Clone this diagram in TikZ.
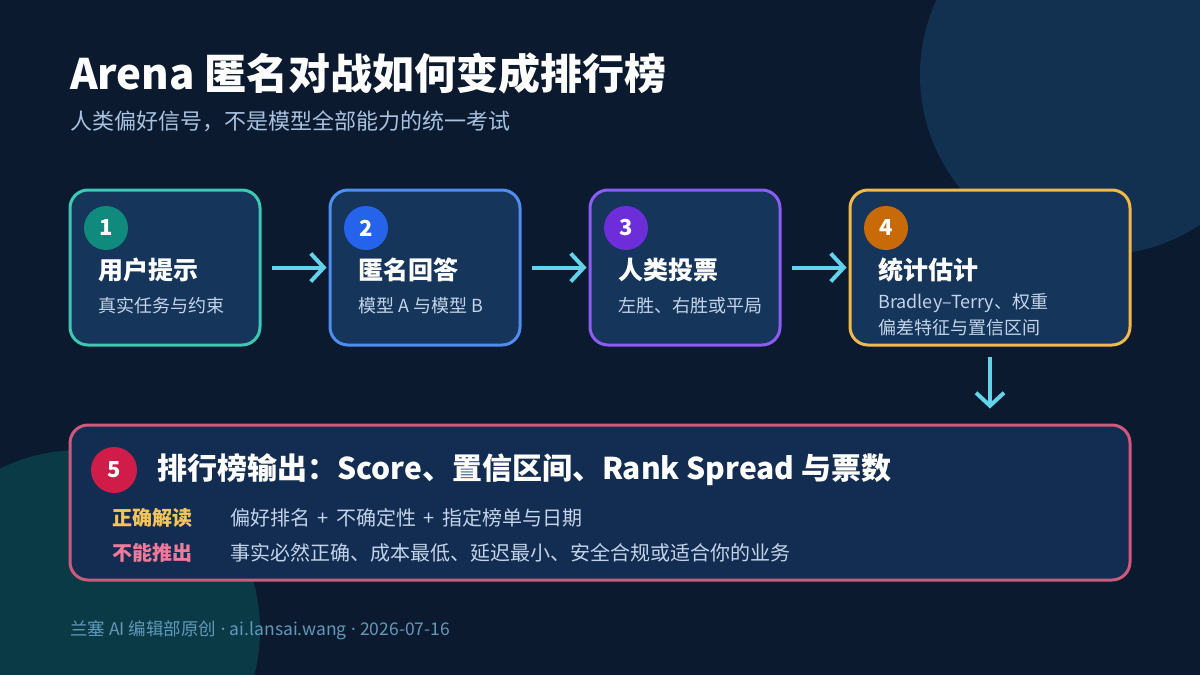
\documentclass[tikz,border=0pt]{standalone}
\usepackage{fontspec}
\setmainfont{Noto Sans CJK SC}
\newfontfamily\latinfont{Noto Sans}
\usetikzlibrary{arrows.meta}
\definecolor{bg}{HTML}{0B1A2F}
\definecolor{circA}{HTML}{12304F}
\definecolor{circB}{HTML}{0B3A47}
\definecolor{boxfill}{HTML}{15355A}
\definecolor{bigfill}{HTML}{132D52}
\definecolor{cTeal}{HTML}{3CC9B4}
\definecolor{cBlue}{HTML}{4F8EF0}
\definecolor{cPurple}{HTML}{8B5CF6}
\definecolor{cAmber}{HTML}{F0B94A}
\definecolor{cPink}{HTML}{D0587A}
\definecolor{bTeal}{HTML}{0F8A7C}
\definecolor{bBlue}{HTML}{2563EB}
\definecolor{bPurple}{HTML}{6D2ED9}
\definecolor{bOrange}{HTML}{C96A08}
\definecolor{bRed}{HTML}{D01C48}
\definecolor{arrowc}{HTML}{62D3EA}
\definecolor{subc}{HTML}{A9C2E0}
\definecolor{bodyc}{HTML}{C3D4EA}
\definecolor{okc}{HTML}{F5C55A}
\definecolor{noc}{HTML}{F07A9A}
\definecolor{footc}{HTML}{6298BA}
\tikzset{
  stepbox/.style={draw, line width=3pt, fill=boxfill, rounded corners=18pt, minimum width=190pt, minimum height=155pt, inner sep=0pt},
  badge/.style={circle, minimum size=44pt, inner sep=0pt, text=white, font=\bfseries\fontsize{22}{22}\selectfont},
  boxtitle/.style={anchor=west, inner sep=0pt, text=white, font=\bfseries\fontsize{25}{25}\selectfont},
  boxsub/.style={anchor=west, inner sep=0pt, text=bodyc, font=\fontsize{18}{18}\selectfont},
  flow/.style={draw=arrowc, line width=4pt, -{Straight Barb[length=13pt,width=28pt]}},
}
\newcommand{\plussep}{\hspace*{7.5pt}+\hspace*{7.5pt}}
\newcommand{\dotsep}{\hspace*{4.5pt}{\latinfont ·}\hspace*{4.5pt}}
\begin{document}
\begin{tikzpicture}[x=1pt,y=-1pt]
\useasboundingbox (0,0) rectangle (1200,675);
\fill[bg] (0,0) rectangle (1200,675);
\begin{scope}
\clip (0,0) rectangle (1200,675);
\fill[circA] (1100,75) circle (180pt);
\fill[circB] (80,630) circle (180pt);
\end{scope}

% title
\node[anchor=west, inner sep=0pt, text=white, font=\bfseries\fontsize{42}{42}\selectfont] (title) at (70,73) {Arena 匿名对战如何变成排行榜};
\node[anchor=west, inner sep=0pt, text=subc, font=\fontsize{22}{22}\selectfont] (subtitle) at (70,121) {人类偏好信号，不是模型全部能力的统一考试};

% step boxes
\node[stepbox, draw=cTeal] (b1) at (165,267.5) {};
\node[stepbox, draw=cBlue] (b2) at (425,267.5) {};
\node[stepbox, draw=cPurple] (b3) at (685,267.5) {};
\node[stepbox, draw=cAmber, minimum width=280pt] (b4) at (990,267.5) {};

\node[badge, fill=bTeal] (n1) at (106,228) {1};
\node[badge, fill=bBlue] (n2) at (366,228) {2};
\node[badge, fill=bPurple] (n3) at (626,228) {3};
\node[badge, fill=bOrange] (n4) at (886,228) {4};

\node[boxtitle] (t1) at (98,270) {用户提示};
\node[boxsub] (s1) at (98,306) {真实任务与约束};
\node[boxtitle] (t2) at (358,270) {匿名回答};
\node[boxsub] (s2) at (358,306) {模型 A 与模型 B};
\node[boxtitle] (t3) at (618,270) {人类投票};
\node[boxsub] (s3) at (618,306) {左胜、右胜或平局};
\node[boxtitle] (t4) at (878,270) {统计估计};
\node[boxsub] (s4a) at (878,303) {Bradley–Terry、权重};
\node[boxsub] (s4b) at (878,328) {偏差特征与置信区间};

% bottom box
\node[draw=cPink, line width=3pt, fill=bigfill, rounded corners=18pt, minimum width=1060pt, minimum height=155pt, inner sep=0pt] (b5) at (600,502.5) {};
\node[badge, fill=bRed, minimum size=46pt] (n5) at (114,470) {5};
\node[anchor=west, inner sep=0pt, text=white, font=\bfseries\fontsize{30}{30}\selectfont] (t5) at (157,470) {排行榜输出：Score、置信区间、Rank Spread 与票数};
\node[anchor=west, inner sep=0pt, text=okc, font=\bfseries\fontsize{20}{20}\selectfont] (ok) at (112,518) {正确解读};
\node[anchor=west, inner sep=0pt, text=bodyc, font=\fontsize{20}{20}\selectfont] (okt) at (230,518) {偏好排名\plussep 不确定性\plussep 指定榜单与日期};
\node[anchor=west, inner sep=0pt, text=noc, font=\bfseries\fontsize{20}{20}\selectfont] (no) at (112,553) {不能推出};
\node[anchor=west, inner sep=0pt, text=bodyc, font=\fontsize{20}{20}\selectfont] (not) at (230,553) {事实必然正确、成本最低、延迟最小、安全合规或适合你的业务};

% connectors
\draw[flow, shorten <=10pt, shorten >=2pt] (b1.east) -- (b2.west);
\draw[flow, shorten <=10pt, shorten >=2pt] (b2.east) -- (b3.west);
\draw[flow, shorten <=10pt, shorten >=2pt] (b3.east) -- (b4.west);
\draw[flow, shorten <=10pt, shorten >=15pt] (b4.south) -- (b4.south |- b5.north);

% footer
\node[anchor=west, inner sep=0pt, text=footc, font=\fontsize{17.5}{17.5}\selectfont] (foot) at (70,630) {兰塞 AI 编辑部原创\dotsep ai.lansai.wang\dotsep 2026-07-16};
\end{tikzpicture}
\end{document}
